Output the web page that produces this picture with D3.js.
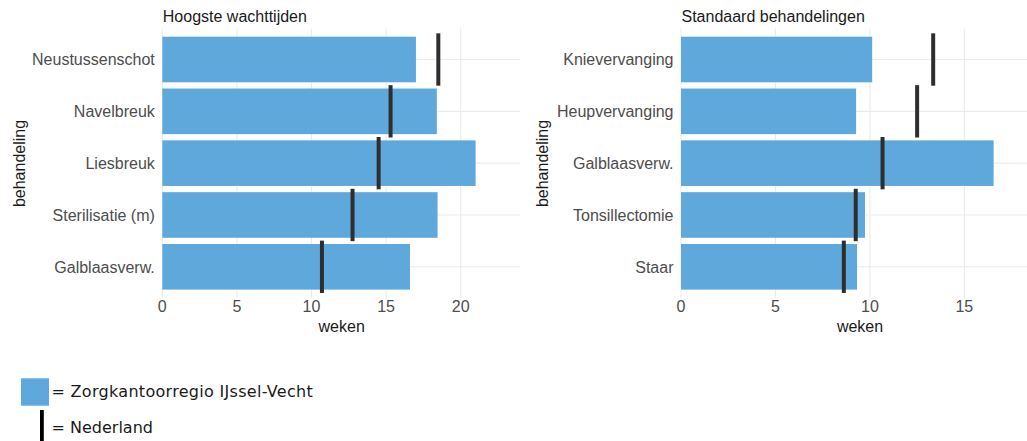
<!DOCTYPE html>
<html>
<head>
<meta charset="utf-8">
<script src="https://cdn.jsdelivr.net/npm/d3@7"></script>
<style>
  html, body { margin: 0; padding: 0; background: #fff; }
  svg { display: block; }
</style>
</head>
<body>
<svg id="chart" width="1027" height="441"></svg>
<script>
// ---- data ----
const leftTitle = "Hoogste wachttijden";
const leftCategories = ["Neustussenschot", "Navelbreuk", "Liesbreuk", "Sterilisatie (m)", "Galblaasverw."];
const leftRegio = [17.0, 18.4, 21.0, 18.45, 16.6];
const leftNederland = [18.5, 15.3, 14.5, 12.75, 10.7];
const leftTicks = [0, 5, 10, 15, 20];

const rightTitle = "Standaard behandelingen";
const rightCategories = ["Knievervanging", "Heupvervanging", "Galblaasverw.", "Tonsillectomie", "Staar"];
const rightRegio = [10.12, 9.27, 16.55, 9.74, 9.32];
const rightNederland = [13.35, 12.5, 10.67, 9.25, 8.62];
const rightTicks = [0, 5, 10, 15];

const xAxisLabel = "weken";
const yAxisLabel = "behandeling";
const legendRegio = "= Zorgkantoorregio IJssel-Vecht";
const legendNederland = "= Nederland";

// ---- style ----
const barColor = "#5fa8dc";
const lineColor = "#2e2e2e";
const gridColor = "#ebebeb";
const font = "'Liberation Sans', Arial, sans-serif";

const svg = d3.select("#chart");

function panel(cfg) {
  const g = svg.append("g");
  const x = d3.scaleLinear().domain([0, cfg.xMax]).range([cfg.x0, cfg.x0 + cfg.xMax * cfg.pxPerUnit]);
  const y = d3.scalePoint().domain(cfg.categories).range([59.5, 266.8]);
  const step = y.step();
  const top = y(cfg.categories[0]) - 0.6 * step;
  const bottom = y(cfg.categories[cfg.categories.length - 1]) + 0.6 * step;

  // gridlines
  g.selectAll(".hgrid").data(cfg.categories).join("line")
    .attr("x1", x(0)).attr("x2", x(cfg.xMax))
    .attr("y1", d => y(d)).attr("y2", d => y(d))
    .attr("stroke", gridColor).attr("stroke-width", 1.1);
  g.selectAll(".vgrid").data(cfg.ticks).join("line")
    .attr("x1", d => x(d)).attr("x2", d => x(d))
    .attr("y1", top).attr("y2", bottom)
    .attr("stroke", gridColor).attr("stroke-width", 1.1);

  // bars
  const barH = step * 0.88;
  g.selectAll(".bar").data(cfg.categories).join("rect")
    .attr("x", x(0))
    .attr("y", d => y(d) - barH / 2)
    .attr("width", (d, i) => x(cfg.regio[i]) - x(0))
    .attr("height", barH)
    .attr("fill", barColor);

  // Nederland markers
  g.selectAll(".nl").data(cfg.categories).join("line")
    .attr("x1", (d, i) => x(cfg.nederland[i]))
    .attr("x2", (d, i) => x(cfg.nederland[i]))
    .attr("y1", d => y(d) - step * 0.505)
    .attr("y2", d => y(d) + step * 0.505)
    .attr("stroke", lineColor).attr("stroke-width", 4);

  // y labels
  g.selectAll(".ylab").data(cfg.categories).join("text")
    .attr("x", cfg.x0 - 7.5)
    .attr("y", d => y(d))
    .attr("dy", "0.36em")
    .attr("text-anchor", "end")
    .attr("font-family", font).attr("font-size", 16)
    .attr("fill", "#4d4d4d")
    .text(d => d);

  // x tick labels
  g.selectAll(".xlab").data(cfg.ticks).join("text")
    .attr("x", d => x(d))
    .attr("y", 312)
    .attr("text-anchor", "middle")
    .attr("font-family", font).attr("font-size", 16)
    .attr("fill", "#4d4d4d")
    .text(d => d);

  // title
  g.append("text")
    .attr("x", cfg.x0 + 0.5).attr("y", 22)
    .attr("font-family", font).attr("font-size", 16)
    .attr("fill", "#1a1a1a")
    .text(cfg.title);

  // axis titles
  g.append("text")
    .attr("x", cfg.xLabelX).attr("y", 332)
    .attr("text-anchor", "middle")
    .attr("font-family", font).attr("font-size", 16)
    .attr("fill", "#1a1a1a")
    .text(xAxisLabel);
  g.append("text")
    .attr("transform", `translate(${cfg.yLabelX},163.5) rotate(-90)`)
    .attr("text-anchor", "middle")
    .attr("font-family", font).attr("font-size", 16)
    .attr("fill", "#1a1a1a")
    .text(yAxisLabel);
}

panel({
  title: leftTitle, categories: leftCategories, regio: leftRegio, nederland: leftNederland,
  ticks: leftTicks, x0: 162.3, pxPerUnit: 14.92, xMax: 24.0, xLabelX: 341.7, yLabelX: 24.5
});
panel({
  title: rightTitle, categories: rightCategories, regio: rightRegio, nederland: rightNederland,
  ticks: rightTicks, x0: 681, pxPerUnit: 18.89, xMax: 18.4, xLabelX: 860, yLabelX: 548
});

// legend
const lg = svg.append("g");
lg.append("rect").attr("x", 21).attr("y", 378.3).attr("width", 28).attr("height", 27.4).attr("fill", barColor);
lg.append("text").attr("x", 51.5).attr("y", 397.3)
  .attr("font-family", "'DejaVu Sans', Verdana, sans-serif").attr("font-size", 16)
  .attr("letter-spacing", 0.3)
  .attr("fill", "#1a1a1a").text(legendRegio);
lg.append("rect").attr("x", 40).attr("y", 410).attr("width", 3.8).attr("height", 31).attr("fill", "#000");
lg.append("text").attr("x", 51.5).attr("y", 433.3)
  .attr("font-family", "'DejaVu Sans', Verdana, sans-serif").attr("font-size", 16)
  .attr("fill", "#1a1a1a").text(legendNederland);
</script>
</body>
</html>
